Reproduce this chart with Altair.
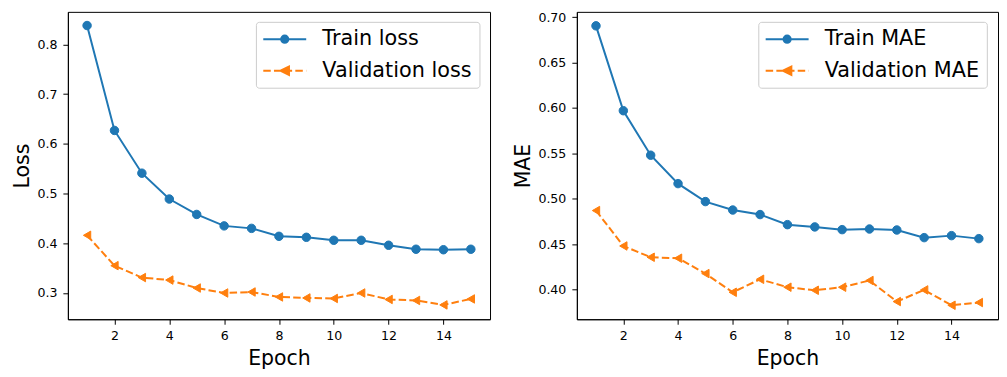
import altair as alt
import pandas as pd

epochs = list(range(1, 16))
train_loss = [0.838, 0.627, 0.541, 0.489, 0.458, 0.435, 0.430, 0.414, 0.412, 0.406, 0.406, 0.396, 0.388, 0.387, 0.388]
val_loss = [0.416, 0.355, 0.331, 0.326, 0.310, 0.300, 0.302, 0.292, 0.290, 0.289, 0.300, 0.287, 0.285, 0.276, 0.288]
train_mae = [0.6905, 0.597, 0.548, 0.5167, 0.4969, 0.4876, 0.4826, 0.4715, 0.469, 0.466, 0.4667, 0.4656, 0.4572, 0.4594, 0.4561]
val_mae = [0.487, 0.448, 0.4356, 0.4345, 0.4176, 0.397, 0.4113, 0.4026, 0.3992, 0.4026, 0.410, 0.3868, 0.3996, 0.3827, 0.3857]

loss_names = ["Train loss", "Validation loss"]
mae_names = ["Train MAE", "Validation MAE"]
x_ticks = [2, 4, 6, 8, 10, 12, 14]
loss_ticks = [0.3, 0.4, 0.5, 0.6, 0.7, 0.8]
mae_ticks = [0.40, 0.45, 0.50, 0.55, 0.60, 0.65, 0.70]

BLUE = "#1f77b4"
ORANGE = "#ff7f0e"
FONT = "DejaVu Sans"

# legend symbols: line sample + marker (unit = 9 px)
SYM_TRAIN = "M-2.39,0H2.39M0.4,0A0.4,0.4,0,1,1,-0.4,0A0.4,0.4,0,1,1,0.4,0Z"
SYM_VAL = ("M-2.39,0H-1.557M-1.2,0H-0.368M-0.011,0H0.822M1.178,0H2.011M2.367,0H2.39"
           "M-0.47,0L0.47,-0.47L0.47,0.47Z")


def make_legend(lx):
    return alt.Legend(
        title=None, orient="none", legendX=lx, legendY=10, padding=7,
        strokeColor="#cccccc", fillColor="rgba(255,255,255,0.8)", cornerRadius=3,
        symbolSize=324, symbolStrokeWidth=2, symbolOffset=11.5, labelOffset=27.3,
        labelFontSize=20.8, labelFont=FONT, labelColor="black", rowPadding=9.6,
        labelLimit=400, symbolOpacity=1,
    )


def panel(train, val, names, ytitle, ydomain, yvalues, yfmt, legend_x, width):
    df = pd.DataFrame({
        "Epoch": epochs + epochs,
        "value": train + val,
        "series": [names[0]] * len(epochs) + [names[1]] * len(epochs),
    })
    base = alt.Chart(df)
    x = alt.X("Epoch:Q", scale=alt.Scale(domain=[0.3, 15.7], nice=False, zero=False),
              axis=alt.Axis(values=x_ticks, format="d", title="Epoch"))
    y = alt.Y("value:Q", scale=alt.Scale(domain=ydomain, nice=False, zero=False),
              axis=alt.Axis(values=yvalues, format=yfmt, title=ytitle))
    layers = []
    specs = [(names[0], BLUE, None, "circle"), (names[1], ORANGE, [7.5, 3.2], "triangle-left")]
    for name, color, dash, shape in specs:
        sub = base.transform_filter(alt.datum.series == name)
        if dash:
            line = sub.mark_line(color=color, strokeWidth=2, strokeDash=dash)
        else:
            line = sub.mark_line(color=color, strokeWidth=2)
        layers.append(line.encode(x=x, y=y))
        pts = sub.mark_point(filled=True, shape=shape, size=72, fill=color, stroke=color,
                             strokeWidth=1, opacity=1)
        layers.append(pts.encode(x=x, y=y))
    leg = make_legend(legend_x)
    legend_layer = base.transform_filter("false").mark_point(filled=True, opacity=1).encode(
        x=x, y=y,
        shape=alt.Shape("series:N", scale=alt.Scale(domain=names, range=[SYM_TRAIN, SYM_VAL]), legend=leg),
        fill=alt.Fill("series:N", scale=alt.Scale(domain=names, range=[BLUE, ORANGE]), legend=leg),
        stroke=alt.Stroke("series:N", scale=alt.Scale(domain=names, range=[BLUE, ORANGE]), legend=leg),
    )
    layers.append(legend_layer)
    return alt.layer(*layers).properties(width=width, height=308)


left = panel(train_loss, val_loss, loss_names, "Loss", [0.2472, 0.8655], loss_ticks, ".1f", 188.4, 423)
right = panel(train_mae, val_mae, mae_names, "MAE", [0.3673, 0.7059], mae_ticks, ".2f", 181.8, 422)

chart = (
    alt.hconcat(left, right, spacing=22)
    .resolve_scale(x="independent", y="independent", shape="independent",
                   fill="independent", stroke="independent")
    .resolve_legend(shape="independent", fill="independent", stroke="independent")
    .properties(padding={"left": 4, "top": 1.5, "right": 0, "bottom": 0}, background="white")
    .configure_view(stroke="black", strokeWidth=1)
    .configure_axis(
        grid=False, domainColor="black", domainWidth=1, tickColor="black", tickWidth=1,
        tickSize=5, labelColor="black", titleColor="black", labelFont=FONT, titleFont=FONT,
        labelFontSize=12.6, titleFontSize=20.5, titleFontWeight="normal",
    )
    .configure_axisX(labelPadding=5, titlePadding=7)
    .configure_axisY(labelPadding=6, titlePadding=4)
)

chart.save("out.html", embed_options={"renderer": "svg", "actions": False})
